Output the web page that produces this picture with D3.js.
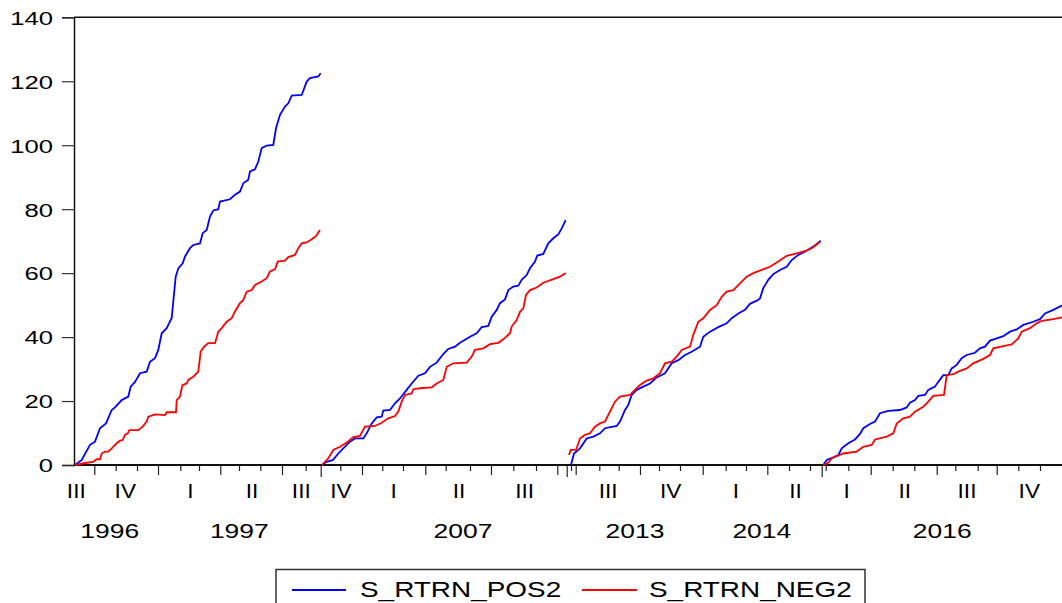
<!DOCTYPE html>
<html>
<head>
<meta charset="utf-8">
<script src="https://cdn.jsdelivr.net/npm/d3@7"></script>
<style>
  body { margin: 0; background: #fff; }
  text { font-family: "Liberation Sans", Arial, sans-serif; fill: #000; }
</style>
</head>
<body>
<div id="chart"></div>
<script>
// first observation of each sample block (trading days, laid end to end)
const blockStart = [0, 248, 494, 748];
const blockEdges = [246.7, 492.7, 747.7];

// [observation within block, cumulative value]
const pos1996 = [[1,0],[7.7,1.6],[16,6.3],[21,7.3],[26,11.5],[32,13],[37.7,17.2],[41,18],[47.7,20.3],[54.3,21.4],[56.7,24.5],[61,26],[66,28.7],[72.7,29.2],[76,32.3],[81,33.4],[84.3,36],[87.7,41.2],[92.7,42.8],[97.7,46],[101.7,58.9],[104.3,61.5],[108.7,63.1],[111,65.2],[116,67.8],[119.3,68.8],[126,69.3],[128.7,72.5],[132.7,73.5],[136,77.7],[139.3,79.6],[144.3,80],[146,82.4],[156,83.1],[161,84.5],[166,85.5],[169.3,88.1],[174.3,89.2],[176,91.8],[181,92.5],[184.3,94.9],[187.7,99.1],[192.7,99.9],[199.3,100.1],[202,105.3],[206,109.5],[211,112.1],[214.3,113.1],[217.7,115.5],[227.7,115.7],[232.7,119.9],[236,121],[244.3,121.5],[246.7,122.5]];
const neg1996 = [[1,0],[12.7,0.7],[19.3,1],[22.7,1.8],[26,1.8],[27.7,3.6],[31,4.2],[34.3,4.2],[37.7,5.2],[42.7,6.8],[46,7.6],[48.7,7.8],[51,9.4],[53.7,9.9],[55.3,10.9],[64.3,10.9],[68.7,12],[72.7,13.6],[74.3,15.1],[81,15.8],[91,15.6],[92.7,16.5],[102,16.5],[102.7,20.3],[106,21.4],[108.3,25],[112.7,25.5],[114.3,26.6],[119.3,27.6],[124.3,29.2],[126.7,35.5],[130,37],[134.3,38.1],[141,38.1],[144.3,41.7],[147.7,42.8],[152.7,44.8],[157.7,45.9],[161,48],[166,50.6],[169.3,51.6],[172.7,54.2],[177.7,54.7],[181,56.3],[187.7,57.4],[192.7,58.4],[196,60.5],[201,61.2],[203.7,63.6],[211,63.9],[214.3,65],[221,65.7],[224.3,67.8],[227.7,69.3],[232.7,69.6],[237.7,70.6],[242,71.6],[246,73.5]];
const pos2007 = [[0,0],[4.7,1],[11,1.6],[16.3,3.6],[21.3,5.2],[28,7.3],[33,8.3],[41.3,8.3],[44.7,9.9],[49.7,13],[54.7,14.9],[59.7,15.1],[61.3,17],[68,17.2],[73,19.3],[78,20.8],[84.7,23.5],[89.7,25.5],[96.3,27.9],[103,28.7],[108,30.7],[114.7,32],[121.3,34.7],[126.3,36.3],[133,37],[138,38.2],[148,40.1],[154.7,41.2],[159.7,43.1],[166.3,43.5],[169.7,46.4],[174.7,48.5],[178,50.6],[183,51.8],[186.3,54.7],[191.3,55.8],[196.3,56.1],[199.7,57.9],[204.7,59.4],[208,61.5],[213,63.6],[215.3,65.5],[221.3,66],[226.3,69.3],[231.3,70.9],[236.3,72.1],[239.7,74],[243.7,76.6]];
const neg2007 = [[0,0],[6.3,2.1],[11.3,4.7],[18,5.7],[24.7,7],[31.3,8.7],[38,9.1],[43,12],[53,12.2],[59.7,13.2],[66.3,14.6],[73,15.3],[76.3,16.7],[79.7,19.8],[83,21.9],[89.7,22.4],[91.3,23.7],[98,24],[109.7,24.3],[114.7,25.5],[121.3,26.6],[124.7,30.7],[131.3,31.8],[144.7,32],[149.7,33.9],[153,36],[161.3,36.5],[168,37.8],[176.3,38.2],[181.3,39.3],[188,41.2],[189.7,43.3],[194.7,45.3],[198,47.9],[201.3,49],[204,53.2],[208,54.7],[214.7,55.5],[221.3,57],[231.3,58.1],[238,58.9],[243.7,60]];
const pos2013 = [[3,0],[6,3.6],[12,5.2],[18.7,8.3],[25.3,8.9],[32,9.9],[37,11.5],[48.7,12.2],[52,13.6],[57,17.2],[60.3,18.8],[63.7,21.9],[68.7,23.5],[75.3,24.5],[82,25.5],[88.7,27.4],[97,28.7],[103.7,31.8],[110.3,32.8],[117,34.4],[123.7,35.4],[132,37],[135.3,40.1],[142,41.7],[150.3,43.1],[158.7,44.3],[163.7,45.9],[170.3,47.4],[177,48.5],[182,50.4],[188.7,51.4],[192,52.1],[195.3,55.3],[200.3,57.9],[205.3,59.7],[212,61],[218.7,62],[223.7,64.1],[230.3,65.7],[237,66.7],[245.3,68.3],[252.7,70.1]];
const neg2013 = [[1,3.1],[2.7,4.7],[8,4.7],[12,8.3],[17,9.4],[22,9.9],[27,12],[32,13],[37,13.6],[42,16.7],[47,19.8],[52,21.4],[62,21.9],[67,23.5],[72,25],[78.7,26.4],[85.3,27.1],[92,28.7],[97,31.8],[103.7,32.3],[108.7,33.9],[113.7,36],[122,37],[125.3,40.7],[130.3,44.8],[135.3,45.9],[142,48.5],[148.7,50],[153.7,52.6],[158.7,54.2],[165.3,54.7],[172,56.8],[178.7,58.9],[185.3,60],[193.7,61],[202,62],[210.3,63.6],[218.7,65.4],[228.7,66.2],[238.7,67],[245.3,68.1],[252,69.8]];
const pos2016 = [[1.3,0],[4.7,1.6],[11.3,2.4],[16.3,3.1],[19.7,5.2],[26.3,6.8],[33,8],[38,9.7],[41.3,11.5],[48,12.8],[53,13.6],[58,16.2],[66.3,16.9],[78,17.2],[84.7,18],[88,19.5],[93,20.3],[96.3,21.6],[103,21.9],[106.3,23.5],[113,24.5],[116.3,26],[121.3,28.1],[126.3,28.1],[129.7,30.2],[134.7,31.3],[139.7,33.4],[144.7,34.4],[153,35.1],[158,36.5],[163,37],[168,38.9],[174.7,39.6],[181.3,40.3],[188,41.7],[194.7,42.4],[201.3,43.8],[211.3,44.8],[218,45.6],[223,47.4],[231.3,48.5],[241,50]];
const neg2016 = [[1.3,0],[6.3,0.7],[9.7,2.1],[21.3,3.6],[34.7,4.2],[41.3,5.7],[49.7,6.3],[53,8],[64.7,8.9],[71.3,9.9],[74.7,13],[81.3,14.6],[88,15.1],[93,16.7],[101.3,18.2],[106.3,19.8],[111.3,21.6],[122,21.9],[124.7,28.1],[131.3,28.4],[136.3,29.2],[144.7,30.2],[151.3,31.8],[161.3,33.2],[168,34.4],[171.3,36.5],[181.3,37.2],[189.7,37.7],[196.3,39.6],[199.7,41.7],[208,42.8],[214.7,44.3],[219.7,45.1],[231.3,45.6],[241,46.2]];

const posBlocks = [pos1996, pos2007, pos2013, pos2016];
const negBlocks = [neg1996, neg2007, neg2013, neg2016];
const seriesNames = ["S_RTRN_POS2", "S_RTRN_NEG2"];

// axis ticks, in observations
const quarterTicks = [20.3, 84, 146.3, 208, 288, 351.3, 417, 483.3, 501.7, 566, 628.7, 693.3, 796.7, 862.7, 922.7];
const monthTicks = [41.7, 63, 106.3, 125, 165, 186.3, 231.7, 266.3, 308.3, 329, 371.7, 396, 439.3, 462, 497, 525.3, 544.7, 585, 606, 651.7, 672, 715, 736, 751.7, 774.3, 818.7, 840.3, 881.3, 903.7, 944.3, 966];
const quarterLabels = ["III", "IV", "I", "II", "III", "IV", "I", "II", "III", "III", "IV", "I", "II", "I", "II", "III", "IV"];
const quarterAt = [2.3, 51.3, 116.4, 178, 227.3, 267, 319.6, 385, 450.6, 534.2, 596.7, 662, 721.6, 772.6, 830.7, 893, 955.3];
const yearLabels = ["1996", "1997", "2007", "2013", "2014", "2016"];
const yearAt = [35.7, 165.3, 389, 561, 687.8, 868.2];
const yTicks = [0, 20, 40, 60, 80, 100, 120, 140];

const W = 1062, H = 603;
const svg = d3.select("#chart").append("svg")
    .attr("width", W)
    .attr("height", H);

const x = d3.scaleLinear().domain([0, 989]).range([74, 1063]);
const y = d3.scaleLinear().domain([0, 140]).range([465, 17.3]);

// frame (top and left)
svg.append("line")
    .attr("x1", x(0)).attr("x2", W)
    .attr("y1", y(140)).attr("y2", y(140))
    .attr("stroke", "#111").attr("stroke-width", 1.5);

// Y axis
const yAxis = svg.append("g")
    .attr("transform", "translate(" + x(0) + ",0)")
    .call(d3.axisLeft(y).tickValues(yTicks).tickSize(12).tickPadding(0));
yAxis.select(".domain").attr("stroke", "#111").attr("stroke-width", 1.5);
yAxis.selectAll(".tick line").attr("stroke", "#333").attr("stroke-width", 1.2);
yAxis.selectAll(".tick text")
    .attr("x", -21 / 1.35)
    .attr("dy", "0.36em")
    .attr("transform", "scale(1.35,1)")
    .style("font-size", "19px")
    .style("font-family", "Liberation Sans, Arial, sans-serif");

// X axis ticks
const xAxisG = svg.append("g").attr("transform", "translate(0," + y(0) + ")");
xAxisG.append("g")
    .call(d3.axisBottom(x).tickValues(monthTicks).tickSize(6).tickFormat(""))
    .call(g => g.select(".domain").remove());
xAxisG.append("g")
    .call(d3.axisBottom(x).tickValues(quarterTicks).tickSize(10).tickFormat(""))
    .call(g => g.select(".domain").remove());
xAxisG.append("g")
    .call(d3.axisBottom(x).tickValues(blockEdges).tickSize(12).tickFormat(""))
    .call(g => g.select(".domain").remove());
xAxisG.selectAll(".tick line").attr("stroke", "#222").attr("stroke-width", 1.2);
xAxisG.append("line")
    .attr("x1", x(0)).attr("x2", W)
    .attr("stroke", "#111").attr("stroke-width", 2);

// quarter labels
svg.append("g").selectAll("text")
    .data(quarterLabels)
    .enter()
    .append("text")
    .attr("text-anchor", "middle")
    .attr("transform", (d, i) => "translate(" + x(quarterAt[i]) + ",498) scale(1.08,1)")
    .style("font-size", "21px")
    .text(d => d);

// year labels
svg.append("g").selectAll("text")
    .data(yearLabels)
    .enter()
    .append("text")
    .attr("text-anchor", "middle")
    .attr("transform", (d, i) => "translate(" + x(yearAt[i]) + ",538) scale(1.26,1)")
    .style("font-size", "21px")
    .text(d => d);

// lines
const line = d3.line()
    .x(d => x(d[0]))
    .y(d => y(d[1]));

function shift(block, i) {
    return block.map(d => [blockStart[i] + d[0], d[1]]);
}

const plot = svg.append("g");
posBlocks.forEach((b, i) => {
    plot.append("path")
        .datum(shift(b, i))
        .attr("fill", "none")
        .attr("stroke", "#0000ff")
        .attr("stroke-width", 1.8)
        .attr("d", line);
});
negBlocks.forEach((b, i) => {
    plot.append("path")
        .datum(shift(b, i))
        .attr("fill", "none")
        .attr("stroke", "#ff0000")
        .attr("stroke-width", 1.8)
        .attr("d", line);
});

// legend
const legend = svg.append("g");
legend.append("rect")
    .attr("x", 276).attr("y", 569.5)
    .attr("width", 589).attr("height", 40)
    .attr("fill", "none")
    .attr("stroke", "#333")
    .attr("stroke-width", 1.5);
const legendItems = [
    { name: seriesNames[0], color: "#0000ff", x0: 292, x1: 346, tx: 360 },
    { name: seriesNames[1], color: "#ff0000", x0: 582, x1: 637, tx: 649 }
];
legendItems.forEach(d => {
    legend.append("line")
        .attr("x1", d.x0).attr("x2", d.x1)
        .attr("y1", 590).attr("y2", 590)
        .attr("stroke", d.color)
        .attr("stroke-width", 1.8);
    legend.append("text")
        .attr("transform", "translate(" + d.tx + ",596.5) scale(1.27,1)")
        .style("font-size", "22px")
        .text(d.name);
});
</script>
</body>
</html>
